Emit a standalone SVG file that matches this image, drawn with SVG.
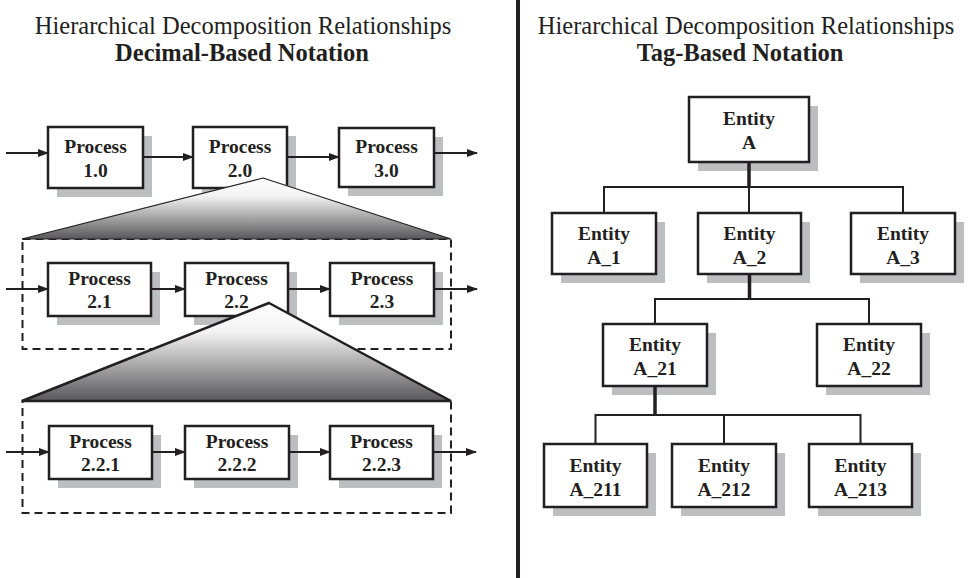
<svg xmlns="http://www.w3.org/2000/svg" width="968" height="578" viewBox="0 0 968 578">
  <style>
    .title { font-family: "Liberation Serif", "Times New Roman", serif; font-size: 24.5px; fill: #231f20; text-anchor: middle; }
    .sub { font-weight: bold; }
    .lbl { font-family: "Liberation Serif", "Times New Roman", serif; font-size: 19.5px; font-weight: bold; fill: #231f20; text-anchor: middle; }
    .box { fill: #fff; stroke: #231f20; stroke-width: 2.5; }
    .shadow { fill: #bcbec0; }
    .flow { stroke: #231f20; stroke-width: 2; fill: none; marker-end: url(#arrow); }
    .dash { fill: none; stroke: #231f20; stroke-width: 2; stroke-dasharray: 8 5; }
    .bus { stroke: #231f20; stroke-width: 2; fill: none; }
    .stem { stroke: #231f20; stroke-width: 3.5; fill: none; }
  </style>
  <defs>
    <marker id="arrow" markerUnits="userSpaceOnUse" markerWidth="11" markerHeight="9" refX="10" refY="4" orient="auto">
      <path d="M0,0 L11,4 L0,8 z" fill="#231f20"/>
    </marker>
    <linearGradient id="fan" x1="0" y1="0" x2="0" y2="1">
      <stop offset="0" stop-color="#ffffff"/>
      <stop offset="0.3" stop-color="#f2f2f2"/>
      <stop offset="1" stop-color="#58585a"/>
    </linearGradient>
  </defs>
  <rect width="968" height="578" fill="#fff"/>

  <!-- headings -->
  <text class="title" x="243" y="34">Hierarchical Decomposition Relationships</text>
  <text class="title sub" x="242" y="61">Decimal-Based Notation</text>
  <text class="title" x="746" y="34">Hierarchical Decomposition Relationships</text>
  <text class="title sub" x="740" y="61">Tag-Based Notation</text>

  <!-- divider -->
  <line x1="518" y1="0" x2="518" y2="578" stroke="#231f20" stroke-width="4"/>

  <!-- decomposition containers -->
  <rect class="dash" x="22.5" y="239" width="428.5" height="110"/>
  <rect class="dash" x="22.5" y="401" width="428.5" height="112"/>

  <!-- level 0 processes -->
  <g id="p1_0">
    <rect class="shadow" x="57" y="136" width="95" height="61"/>
    <rect class="box" x="48" y="127" width="95" height="61"/>
    <text class="lbl" x="95.5" y="153">Process</text>
    <text class="lbl" x="95.5" y="177">1.0</text>
  </g>
  <g id="p2_0">
    <rect class="shadow" x="202" y="136" width="94" height="61"/>
    <rect class="box" x="193" y="127" width="94" height="61"/>
    <text class="lbl" x="240" y="153">Process</text>
    <text class="lbl" x="240" y="177">2.0</text>
  </g>
  <g id="p3_0">
    <rect class="shadow" x="348" y="137" width="95" height="59"/>
    <rect class="box" x="339" y="128" width="95" height="59"/>
    <text class="lbl" x="386.5" y="153">Process</text>
    <text class="lbl" x="386.5" y="177">3.0</text>
  </g>

  <!-- level 1 processes -->
  <g id="p2_1">
    <rect class="shadow" x="57" y="272" width="103" height="53"/>
    <rect class="box" x="48" y="263" width="103" height="53"/>
    <text class="lbl" x="99.5" y="285">Process</text>
    <text class="lbl" x="99.5" y="308">2.1</text>
  </g>
  <g id="p2_2">
    <rect class="shadow" x="194" y="272" width="103" height="53"/>
    <rect class="box" x="185" y="263" width="103" height="53"/>
    <text class="lbl" x="236.5" y="285">Process</text>
    <text class="lbl" x="236.5" y="308">2.2</text>
  </g>
  <g id="p2_3">
    <rect class="shadow" x="339" y="272" width="104" height="53"/>
    <rect class="box" x="330" y="263" width="104" height="53"/>
    <text class="lbl" x="382" y="285">Process</text>
    <text class="lbl" x="382" y="308">2.3</text>
  </g>

  <!-- level 2 processes -->
  <g id="p2_2_1">
    <rect class="shadow" x="58" y="435" width="103" height="53"/>
    <rect class="box" x="49" y="426" width="103" height="53"/>
    <text class="lbl" x="100.5" y="447.5">Process</text>
    <text class="lbl" x="100.5" y="470.5">2.2.1</text>
  </g>
  <g id="p2_2_2">
    <rect class="shadow" x="194" y="435" width="104" height="53"/>
    <rect class="box" x="185" y="426" width="104" height="53"/>
    <text class="lbl" x="237" y="447.5">Process</text>
    <text class="lbl" x="237" y="470.5">2.2.2</text>
  </g>
  <g id="p2_2_3">
    <rect class="shadow" x="339" y="435" width="103" height="53"/>
    <rect class="box" x="330" y="426" width="103" height="53"/>
    <text class="lbl" x="381.5" y="447.5">Process</text>
    <text class="lbl" x="381.5" y="470.5">2.2.3</text>
  </g>

  <!-- expansion wedges -->
  <polygon points="263,178 451,239 22,239" fill="url(#fan)" stroke="#231f20" stroke-width="1.2" stroke-linejoin="miter"/>
  <polygon points="269,303 451,401 22,401" fill="url(#fan)" stroke="#231f20" stroke-width="2.5" stroke-linejoin="miter"/>

  <!-- entity tree -->
  <g id="eA">
    <rect class="shadow" x="698" y="106" width="120" height="65"/>
    <rect class="box" x="689" y="97" width="120" height="65"/>
    <text class="lbl" x="749" y="125">Entity</text>
    <text class="lbl" x="749" y="149">A</text>
  </g>
  <g id="eA_1">
    <rect class="shadow" x="561" y="222" width="104" height="61"/>
    <rect class="box" x="552" y="213" width="104" height="61"/>
    <text class="lbl" x="604" y="240">Entity</text>
    <text class="lbl" x="604" y="263.5">A_1</text>
  </g>
  <g id="eA_2">
    <rect class="shadow" x="707" y="222" width="103" height="61"/>
    <rect class="box" x="698" y="213" width="103" height="61"/>
    <text class="lbl" x="749.5" y="240">Entity</text>
    <text class="lbl" x="749.5" y="263.5">A_2</text>
  </g>
  <g id="eA_3">
    <rect class="shadow" x="860" y="222" width="104" height="61"/>
    <rect class="box" x="851" y="213" width="104" height="61"/>
    <text class="lbl" x="903" y="240">Entity</text>
    <text class="lbl" x="903" y="263.5">A_3</text>
  </g>
  <g id="eA_21">
    <rect class="shadow" x="612" y="333" width="104" height="62"/>
    <rect class="box" x="603" y="324" width="104" height="62"/>
    <text class="lbl" x="655" y="351">Entity</text>
    <text class="lbl" x="655" y="374.5">A_21</text>
  </g>
  <g id="eA_22">
    <rect class="shadow" x="826" y="333" width="104" height="62"/>
    <rect class="box" x="817" y="324" width="104" height="62"/>
    <text class="lbl" x="869" y="351">Entity</text>
    <text class="lbl" x="869" y="374.5">A_22</text>
  </g>
  <g id="eA_211">
    <rect class="shadow" x="553" y="453" width="103" height="63"/>
    <rect class="box" x="544" y="444" width="103" height="63"/>
    <text class="lbl" x="595.5" y="472">Entity</text>
    <text class="lbl" x="595.5" y="495.5">A_211</text>
  </g>
  <g id="eA_212">
    <rect class="shadow" x="681" y="453" width="104" height="63"/>
    <rect class="box" x="672" y="444" width="104" height="63"/>
    <text class="lbl" x="724" y="472">Entity</text>
    <text class="lbl" x="724" y="495.5">A_212</text>
  </g>
  <g id="eA_213">
    <rect class="shadow" x="818" y="453" width="103" height="63"/>
    <rect class="box" x="809" y="444" width="103" height="63"/>
    <text class="lbl" x="860.5" y="472">Entity</text>
    <text class="lbl" x="860.5" y="495.5">A_213</text>
  </g>

  <!-- connectors -->
  <g id="connectors">
    <!-- process flows -->
    <line class="flow" x1="6" y1="153" x2="48" y2="153"/>
    <line class="flow" x1="143" y1="157" x2="193" y2="157"/>
    <line class="flow" x1="287" y1="157" x2="339" y2="157"/>
    <line class="flow" x1="434" y1="153" x2="477" y2="153"/>

    <line class="flow" x1="6" y1="289" x2="48" y2="289"/>
    <line class="flow" x1="151" y1="289" x2="185" y2="289"/>
    <line class="flow" x1="288" y1="289" x2="330" y2="289"/>
    <line class="flow" x1="434" y1="289" x2="477" y2="289"/>

    <line class="flow" x1="6" y1="452" x2="49" y2="452"/>
    <line class="flow" x1="152" y1="452" x2="185" y2="452"/>
    <line class="flow" x1="289" y1="452" x2="330" y2="452"/>
    <line class="flow" x1="433" y1="452" x2="476" y2="452"/>

    <!-- tree links -->
    <line class="stem" x1="749" y1="162" x2="749" y2="187"/>
    <polyline class="bus" points="604,213 604,187 903,187 903,213"/>
    <line class="bus" x1="749" y1="187" x2="749" y2="213"/>

    <line class="stem" x1="749.5" y1="274" x2="749.5" y2="299"/>
    <polyline class="bus" points="655,324 655,299 869,299 869,324"/>

    <line class="stem" x1="655" y1="386" x2="655" y2="415"/>
    <polyline class="bus" points="595.5,444 595.5,415 860.5,415 860.5,444"/>
    <line class="bus" x1="724" y1="415" x2="724" y2="444"/>
  </g>
</svg>
